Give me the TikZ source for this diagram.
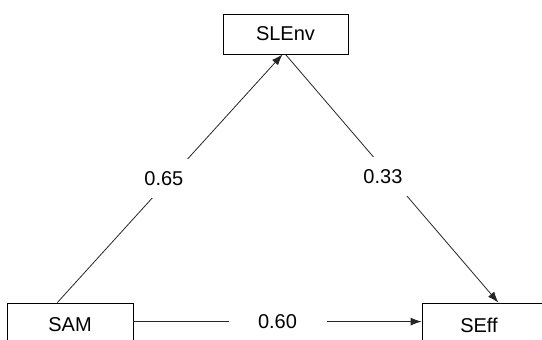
\documentclass[tikz,border=0pt]{standalone}
\usepackage{fontspec}
\setmainfont{Liberation Sans}
\usetikzlibrary{arrows.meta,calc}
\begin{document}
\begin{tikzpicture}[x=1pt,y=-1pt,
  box/.style={draw=black,line width=0.8pt,fill=white,minimum width=125pt,minimum height=40pt,inner sep=0pt,font=\fontsize{20}{24}\selectfont},
  lab/.style={fill=white,minimum width=98pt,minimum height=39pt,inner sep=0pt,font=\fontsize{20}{24}\selectfont},
  conn/.style={draw=black!85,line width=0.8pt,-{Latex[length=11pt,width=8pt]}}]
\useasboundingbox (0,0) rectangle (542,340);
\clip (0,0) rectangle (542,340);
\node[box] (SLEnv) at (285.5,34) {SLEnv};
\node[box,minimum width=126pt,minimum height=50pt] (SAM) at (70,328) {\raisebox{6pt}{SAM}};
\node[box,minimum height=50pt] (SEff) at (484.5,328) {\hspace*{-11pt}\raisebox{6pt}{SEff}};
\coordinate (sam-e) at ($(SAM.north east)+(0,19)$);
\coordinate (seff-w) at ($(SEff.north west)+(0,19)$);
\draw[conn] ($(SAM.north west)!0.4!(SAM.north east)$) -- node[lab,pos=0.5,xshift=-6pt] (l1) {0.65} ($(SLEnv.south)+(-3,0)$);
\draw[conn] (SLEnv.south) -- node[lab,pos=0.5,xshift=-9pt,yshift=2pt] (l2) {0.33} ($(SEff.north west)!0.61!(SEff.north east)$);
\draw[conn] (sam-e) -- node[lab,pos=0.5] (l3) {0.60} (seff-w);
\end{tikzpicture}
\end{document}
